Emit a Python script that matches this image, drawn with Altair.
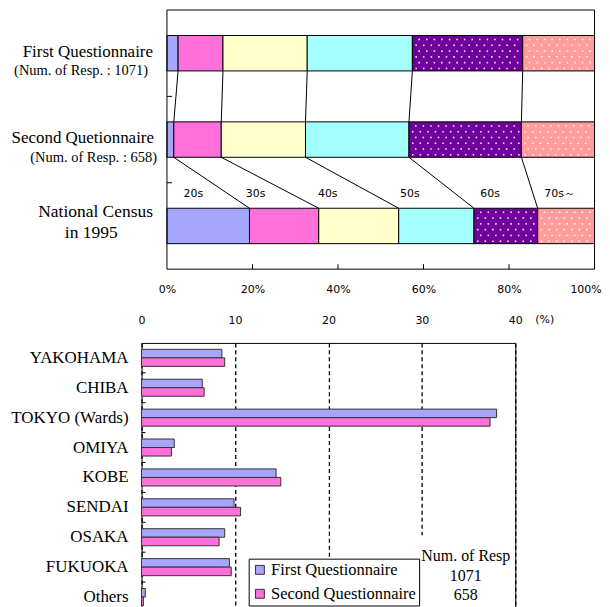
import altair as alt
import pandas as pd
import numpy as np

# ---------------- data ----------------
row_names = ["First Questionnaire", "Second Quetionnaire", "National Census"]
ages = ["20s", "30s", "40s", "50s", "60s", "70s～"]
first_q = [2.6, 10.5, 19.7, 24.6, 25.8, 16.8]
second_q = [1.6, 11.1, 19.7, 24.2, 26.3, 17.1]
census = [19.3, 16.2, 18.7, 17.6, 14.9, 13.3]
age_colors = ["#A6A6FF", "#FF70DA", "#FFFFCC", "#A6FFFF", "#70009C", "#FF9C9C"]
pct_ticks = [0, 20, 40, 60, 80, 100]

cities = ["YAKOHAMA", "CHIBA", "TOKYO (Wards)", "OMIYA", "KOBE",
          "SENDAI", "OSAKA", "FUKUOKA", "Others"]
city_first = [8.6, 6.5, 38.0, 3.5, 14.4, 9.9, 8.9, 9.4, 0.4]
city_second = [8.9, 6.7, 37.3, 3.2, 14.9, 10.6, 8.3, 9.6, 0.2]
series = ["First Questionnaire", "Second Questionnaire"]
series_colors = ["#A6A6FF", "#FF70DA"]
city_ticks = [0, 10, 20, 30, 40]
resp_note = ["Num. of Resp", "1071", "658"]

SERIF = "Liberation Serif"
SANS = "DejaVu Sans"

# ---------------- top chart ----------------
TOP_W, TOP_H = 455, 260
SHIFT = 25.5
HALF = 0.205
PX_X = (TOP_W - 0.5 - SHIFT) / 100.0   # pixels per percent
PX_Y = TOP_H / 3.0                     # pixels per row unit
shares = [first_q, second_q, census]
cums = [np.cumsum(v) for v in shares]

seg_rows = []
for i, vals in enumerate(shares):
    c = 0.0
    for a, v in zip(ages, vals):
        seg_rows.append(dict(age=a, x0=c, x1=c + v, y0=i + 0.5 - HALF, y1=i + 0.5 + HALF))
        c += v
seg = pd.DataFrame(seg_rows)

# dotted texture for the 60s and 70s segments
dot_rows = []
for r in seg_rows:
    if r["age"] not in ("60s", "70s～"):
        continue
    dx, dy = 7.6 / PX_X, 5.8 / PX_Y
    yy = r["y0"] + 0.7 * dy
    k = 0
    while yy < r["y1"] - 0.4 * dy:
        xx = r["x0"] + (0.9 if k % 2 == 0 else 0.5) * dx
        while xx < r["x1"] - 0.3 * dx:
            dot_rows.append(dict(x=xx, y=yy, age=r["age"]))
            xx += dx
        yy += dy
        k += 1
dots = pd.DataFrame(dot_rows)

con_rows = []
for i in range(2):
    for k in range(5):
        con_rows.append(dict(x=cums[i][k], x2=cums[i + 1][k],
                             y=i + 0.5 + HALF, y2=i + 1.5 - HALF))
con = pd.DataFrame(con_rows)

# age labels centred between connectors, slightly above the census bar
t = 0.72
edges_lo = [0.0] + [cums[1][k] + t * (cums[2][k] - cums[1][k]) for k in range(5)]
edges_hi = edges_lo[1:] + [100.0]
lab = pd.DataFrame(dict(age=ages, x=[(a + b) / 2 - 1.0 for a, b in zip(edges_lo, edges_hi)],
                        y=[1.5 + HALF + t * (1 - 2 * HALF)] * 6))

xs = alt.Scale(domain=[0, 100], range=[SHIFT, TOP_W - 0.5], nice=False, zero=False)
ys = alt.Scale(domain=[0, 3], reverse=True, nice=False, zero=False)

bars = alt.Chart(seg).mark_rect(stroke="black", strokeWidth=1).encode(
    x=alt.X("x0:Q", scale=xs,
            axis=alt.Axis(values=pct_ticks, labelExpr="datum.value + '%'", ticks=False,
                          domain=False, grid=False, title=None, labelFont=SANS,
                          labelFontSize=11, labelColor="black", labelPadding=14,
                          labelFlush=False, labelOverlap=False,
                          labelOffset={"condition": {"test": "datum.value == 100", "value": -9},
                                       "value": 0})),
    x2="x1:Q",
    y=alt.Y("y0:Q", scale=ys, axis=None),
    y2="y1:Q",
    color=alt.Color("age:N", scale=alt.Scale(domain=ages, range=age_colors), legend=None),
)

dot_layer = alt.Chart(dots).mark_square(size=2.5, filled=True, color="white", opacity=0.9).encode(
    x="x:Q", y="y:Q")

border = alt.Chart(pd.DataFrame({"a": [0]})).mark_rect(
    fill="white", fillOpacity=0, stroke="black", strokeWidth=1).encode(
    x=alt.datum(0), x2=alt.datum(100), y=alt.datum(0), y2=alt.datum(3))

connectors = alt.Chart(con).mark_rule(color="black", strokeWidth=1).encode(
    x="x:Q", x2="x2:Q", y="y:Q", y2="y2:Q")

age_text = alt.Chart(lab).mark_text(font=SANS, fontSize=11, color="black").encode(
    x="x:Q", y="y:Q", text="age:N")

xticks_in = alt.Chart(pd.DataFrame({"v": pct_ticks[1:-1]})).mark_rule(color="black").encode(
    x="v:Q", y=alt.value(TOP_H), y2=alt.value(TOP_H - 5))
yticks_in = alt.Chart(pd.DataFrame({"v": [1, 2]})).mark_rule(color="black").encode(
    y="v:Q", x=alt.datum(0), x2=alt.datum(1.2))

def row_text(txt, row, dy, dx, size, align="right"):
    return alt.Chart(pd.DataFrame({"t": [txt], "r": [row + 0.5]})).mark_text(
        font=SERIF, fontSize=size, align=align, baseline="middle", dx=dx, dy=dy,
        color="black").encode(x=alt.datum(0), y="r:Q", text="t:N")

labels = [
    row_text(row_names[0], 0, -1, -14, 17),
    row_text("(Num. of Resp. : 1071)", 0, 18, -19, 14.5),
    row_text(row_names[1], 1, -2, -13, 17),
    row_text("(Num. of Resp. : 658)", 1, 18, -10, 14.5),
    row_text(row_names[2], 2, -14, -14, 17.5),
    row_text("in 1995", 2, 7, -76, 17.5, align="center"),
]

top = alt.layer(bars, dot_layer, connectors, age_text, xticks_in, yticks_in, border,
                *labels).properties(
    width=TOP_W, height=TOP_H, view=alt.ViewBackground(stroke="transparent"))

# ---------------- bottom chart ----------------
BOT_W, BOT_H = 375, 270
bdf = pd.DataFrame({
    "city": cities * 2,
    "series": [series[0]] * len(cities) + [series[1]] * len(cities),
    "value": city_first + city_second,
})
yb = alt.Scale(domain=cities, paddingInner=0.43, paddingOuter=0.215)
xb = alt.Scale(domain=[0, 40], nice=False, zero=True)

bbars = alt.Chart(bdf).mark_bar(stroke="#333333", strokeWidth=1).encode(
    x=alt.X("value:Q", scale=xb,
            axis=alt.Axis(orient="top", values=city_ticks, grid=True, gridDash=[4, 3],
                          gridColor="black", gridWidth=1.3, ticks=False, domain=False,
                          labelPadding=17, labelFont=SANS, labelFontSize=11,
                          labelColor="black", title=None, labelFlush=False,
                          labelOverlap=False)),
    y=alt.Y("city:N", scale=yb, sort=cities,
            axis=alt.Axis(ticks=False, domain=False, labelPadding=13.5, labelFont=SERIF,
                          labelFontSize=17, labelColor="black", title=None,
                          minExtent=133, maxExtent=133)),
    yOffset=alt.YOffset("series:N", sort=series,
                        scale=alt.Scale(paddingInner=0, paddingOuter=0)),
    color=alt.Color("series:N", sort=series,
                    scale=alt.Scale(domain=series, range=series_colors),
                    legend=alt.Legend(orient="none", legendX=107.5, legendY=216.5, title=None,
                                      fillColor="white", strokeColor="black", padding=3,
                                      symbolType="square", symbolSize=80,
                                      symbolStrokeColor="#333333", symbolStrokeWidth=1,
                                      labelFont=SERIF, labelFontSize=16.5, labelColor="black",
                                      rowPadding=7, labelOffset=3)),
)

cover = alt.Chart(pd.DataFrame({"a": [0]})).mark_rect(fill="white").encode(
    x=alt.datum(28.6), x2=alt.datum(39.7), y=alt.value(193), y2=alt.value(BOT_H))

note = alt.Chart(pd.DataFrame({"a": [0]})).mark_text(
    text=resp_note, font=SERIF, fontSize=16, lineHeight=19.5, align="center",
    baseline="top", color="black").encode(x=alt.datum(34.7), y=alt.value(206))

pct_unit = alt.Chart(pd.DataFrame({"a": [0]})).mark_text(
    text="(%)", font=SANS, fontSize=11, align="left", baseline="middle", dx=20,
    color="black").encode(x=alt.datum(40), y=alt.value(-22.7))

cticks = alt.Chart(pd.DataFrame({"city": cities[:-1]})).mark_rule(
    color="black", yOffset=15).encode(
    y=alt.Y("city:N", scale=yb, sort=cities), x=alt.value(0), x2=alt.value(4))

bottom = alt.layer(bbars, cover, note, pct_unit, cticks).properties(
    width=BOT_W, height=BOT_H,
    view=alt.ViewBackground(stroke="black", strokeWidth=1))

chart = alt.vconcat(top, bottom, spacing=18).resolve_scale(
    color="independent", x="independent", y="independent").properties(
    padding=0).configure_view(stroke="black", strokeWidth=1).configure(background="white")

chart.save("out.html", embed_options={"renderer": "svg", "actions": False})
